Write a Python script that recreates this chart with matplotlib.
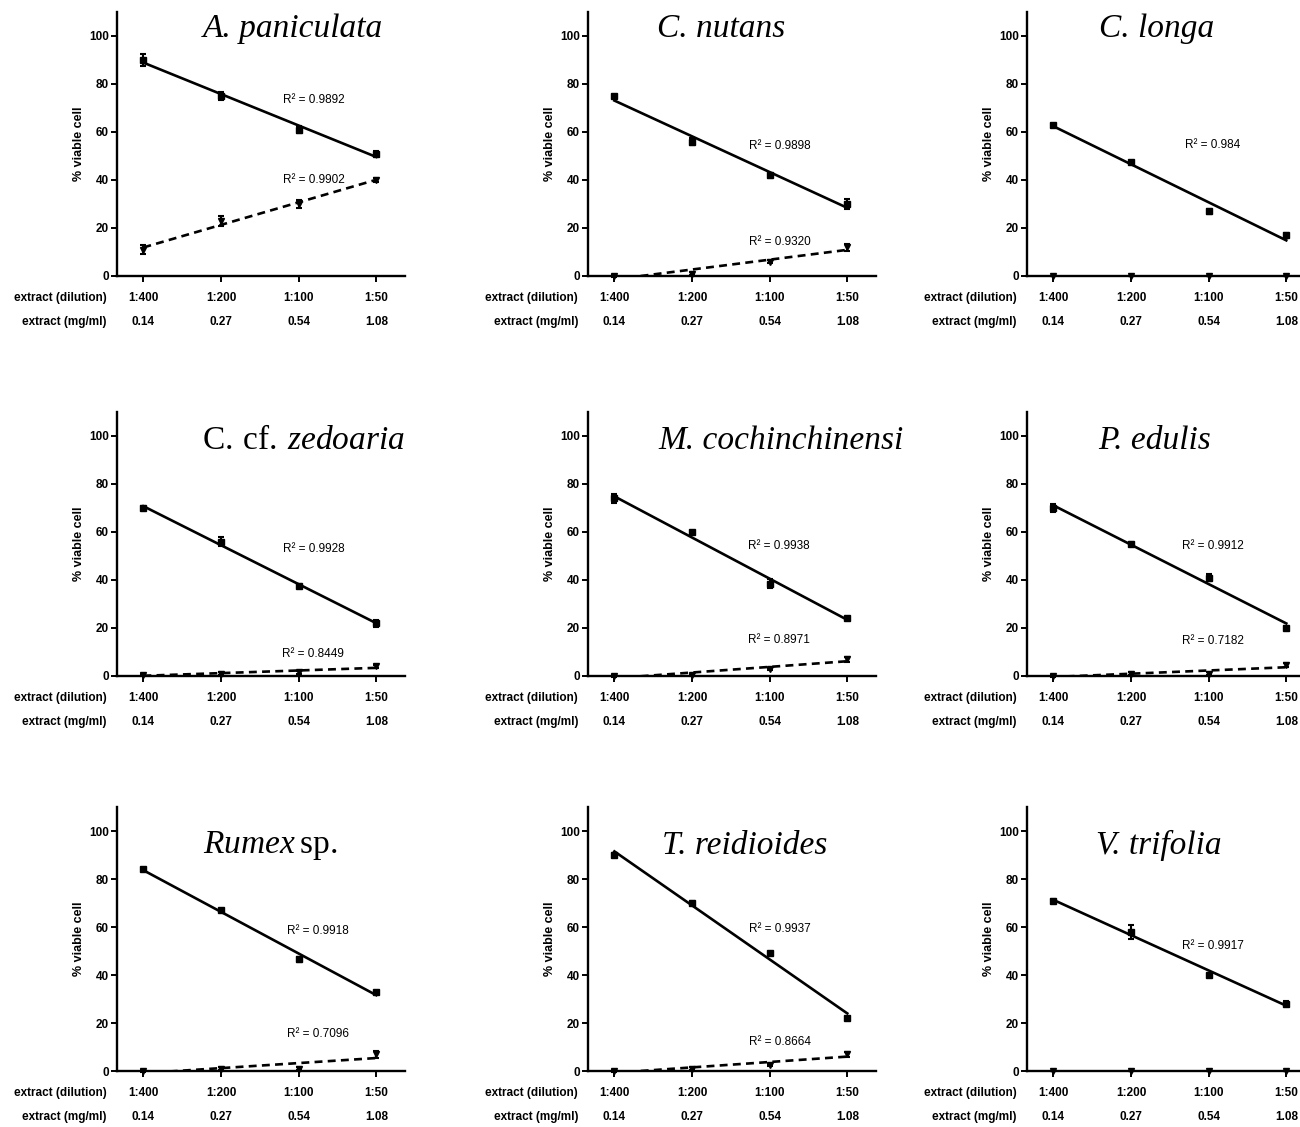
import numpy as np
import matplotlib
matplotlib.use("Agg")
import matplotlib.pyplot as plt

plt.rcParams['font.family'] = ['Liberation Sans', 'DejaVu Sans']
plt.rcParams['mathtext.fontset'] = 'custom'
plt.rcParams['mathtext.rm'] = 'Liberation Serif'
plt.rcParams['mathtext.it'] = 'Liberation Serif:italic'

# panel titles; mathtext only where upright and italic are mixed
titles = ["A. paniculata", "C. nutans", "C. longa",
          r"$\mathrm{C.\:cf.}\:\mathit{zedoaria}$", "M. cochinchinensi", "P. edulis",
          r"$\mathit{Rumex}\:\mathrm{sp.}$", "T. reidioides", "V. trifolia"]

dilution = ["1:400", "1:200", "1:100", "1:50"]
conc = ["0.14", "0.27", "0.54", "1.08"]

# solid series (% viable cell) and its error
viable = [[90, 75, 61, 51], [75, 56, 42, 30], [63, 47.5, 27, 17],
          [70, 56, 37.5, 22], [74, 60, 38.5, 24], [70, 55, 41, 20],
          [84, 67, 46.5, 33], [90, 70, 49, 22], [71, 58, 40, 28]]
viable_err = [[2.5, 1.5, 1.5, 1], [0.5, 1.5, 1, 2], [0.5, 0.5, 1, 1],
              [1, 2, 1, 1.5], [2, 0.5, 2, 0.5], [1.5, 1, 1.5, 1],
              [0.5, 0.5, 1, 0.5], [1, 1, 0.5, 0.5], [0.5, 3, 0.5, 1]]

# dashed series and its error
second = [[11, 23, 30, 40], [0, 1, 6, 12], [0, 0, 0, 0],
          [0.5, 1, 1.5, 4], [0, 0.5, 3, 7], [0, 1, 1, 4.5],
          [0, 1, 1, 7], [0, 1, 2.5, 7], [0, 0, 0, 0]]
second_err = [[2, 2, 1.5, 1], [0.5, 0.5, 0.5, 1.5], [0, 0, 0, 0],
              [0.5, 0.5, 0.5, 0.5], [0.3, 0.5, 0.5, 1], [0.3, 0.5, 0.5, 0.8],
              [0.3, 0.5, 0.5, 1.5], [0.3, 0.5, 0.5, 1], [0, 0, 0, 0]]

r2_viable = ["0.9892", "0.9898", "0.984", "0.9928", "0.9938", "0.9912", "0.9918", "0.9937", "0.9917"]
r2_second = ["0.9902", "0.9320", None, "0.8449", "0.8971", "0.7182", "0.7096", "0.8664", None]

# layout (pixels) and label placement
W, H = 1300, 1127
col_x = [117, 588, 1027]
row_zero = [276, 676, 1071]
ax_w, ax_h = 288, 264
title_pos = [(1.93, 103), (1.38, 103), (1.33, 103),
             (2.06, 98), (2.15, 98), (1.30, 98),
             (1.63, 94), (1.68, 94), (1.36, 94)]
r2_pos = [((2.19, 73.5), (2.19, 40)), ((2.13, 54), (2.13, 14)), ((2.05, 54.5), None),
          ((2.19, 53), (2.19, 9)), ((2.12, 54), (2.12, 15)), ((2.05, 54), (2.05, 14.5)),
          ((2.25, 58.5), (2.25, 15.5)), ((2.13, 59), (2.13, 12)), ((2.06, 52), None)]

fig = plt.figure(figsize=(W / 100, H / 100), dpi=100)
x = np.arange(4)
small = dict(fontsize=8.5, fontweight='bold')

for i in range(9):
    r, c = divmod(i, 3)
    ax = fig.add_axes([col_x[c] / W, (H - row_zero[r]) / H, ax_w / W, ax_h / H])
    ax.set_xlim(-0.34, 3.37)
    ax.set_ylim(0, 110)
    for s in ['top', 'right']:
        ax.spines[s].set_visible(False)
    for s in ['left', 'bottom']:
        ax.spines[s].set_linewidth(1.7)
    ax.set_yticks(range(0, 101, 20))
    ax.set_yticklabels([str(v) for v in range(0, 101, 20)], **small)
    ax.set_xticks(x)
    ax.set_xticklabels([])
    ax.tick_params(direction='out', length=4, width=1.4, pad=2)
    ax.set_ylabel("% viable cell", fontsize=9, fontweight='bold', labelpad=3)

    # fit lines
    y1 = np.array(viable[i])
    k, b = np.polyfit(x, y1, 1)
    ax.plot(x[[0, -1]], k * x[[0, -1]] + b, color='black', lw=1.9, zorder=2)
    ax.errorbar(x, y1, yerr=viable_err[i], fmt='s', ms=4, color='black',
                capsize=2.5, elinewidth=1.5, capthick=1.5, zorder=3)
    y2 = np.array(second[i])
    if r2_second[i] is not None:
        k2, b2 = np.polyfit(x, y2, 1)
        ax.plot(x[[0, -1]], k2 * x[[0, -1]] + b2, color='black', lw=1.9,
                ls=(0, (3, 2)), zorder=2)
    ax.errorbar(x, y2, yerr=second_err[i], fmt='v', ms=4.5, color='black',
                capsize=2.5, elinewidth=1.5, capthick=1.5, zorder=3, clip_on=False)

    # R² labels
    p1, p2 = r2_pos[i]
    ax.text(p1[0], p1[1], "R\u00b2 = " + r2_viable[i], ha='center', va='center',
            fontsize=8.5)
    if p2 is not None:
        ax.text(p2[0], p2[1], "R\u00b2 = " + r2_second[i], ha='center', va='center',
                fontsize=8.5)

    # title
    tx, ty = title_pos[i]
    if titles[i].startswith('$'):
        ax.text(tx, ty, titles[i], ha='center', va='center', fontsize=24)
    else:
        ax.text(tx, ty, titles[i], ha='center', va='center', fontsize=24,
                family='Liberation Serif', style='italic')

    # two-row category labels
    tr = ax.get_xaxis_transform()
    for j in range(4):
        ax.text(x[j], -22 / ax_h, dilution[j], transform=tr, ha='center', va='center', **small)
        ax.text(x[j], -46 / ax_h, conc[j], transform=tr, ha='center', va='center', **small)
    ax.text(-10 / ax_w, -22 / ax_h, "extract (dilution)", transform=ax.transAxes,
            ha='right', va='center', **small)
    ax.text(-10 / ax_w, -46 / ax_h, "extract (mg/ml)", transform=ax.transAxes,
            ha='right', va='center', **small)

fig.savefig("out.png", dpi=100, facecolor='white')
